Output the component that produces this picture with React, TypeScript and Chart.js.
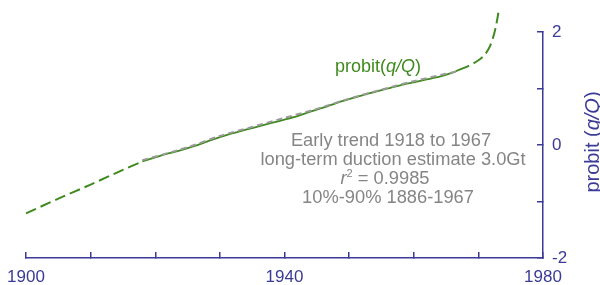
import { useEffect, useRef } from 'react';
import { Chart, registerables } from 'chart.js';

Chart.register(...registerables);

// Fitted probit curve (dashed green), shown outside the data range
const fitEarlyYears = [1900, 1905, 1910, 1915, 1918];
const fitEarlyValues = [-1.21, -0.95, -0.7, -0.44, -0.29];
const fitLateYears = [1967, 1968.5, 1970, 1971, 1971.8, 1972.4, 1972.8, 1973.1];
const fitLateValues = [1.33, 1.4, 1.5, 1.6, 1.75, 1.95, 2.15, 2.34];

// Observed probit(q/Q) (solid green)
const dataYears = [1918, 1920, 1922, 1924, 1926, 1928, 1930, 1932, 1934, 1936, 1938, 1940, 1942, 1944, 1946, 1948, 1950, 1952, 1954, 1956, 1958, 1960, 1962, 1964, 1966, 1967];
const dataValues = [-0.29, -0.22, -0.15, -0.09, -0.02, 0.06, 0.14, 0.21, 0.27, 0.33, 0.39, 0.45, 0.51, 0.59, 0.66, 0.74, 0.81, 0.88, 0.94, 1.0, 1.06, 1.11, 1.16, 1.21, 1.28, 1.33];

// Early trend fit 1918-1967 (gray dashed)
const trendYears = [1918, 1925, 1930, 1935, 1940, 1945, 1950, 1955, 1960, 1965, 1967];
const trendValues = [-0.27, -0.04, 0.16, 0.32, 0.48, 0.64, 0.82, 0.98, 1.13, 1.26, 1.31];

const xTickLabels = [1900, 1940, 1980];
const yTickValues = [-2, -1, 0, 1, 2];
const yTickLabels = [-2, 0, 2];

const annotationLines = [
  'Early trend 1918 to 1967',
  'long-term duction estimate 3.0Gt',
  'r2 = 0.9985',
  '10%-90% 1886-1967',
];

const NAVY = '#3b3b96';
const GREEN = '#3f8a1e';
const GRAY_TEXT = '#858585';
const FONT = '"Liberation Sans", Arial, Helvetica, sans-serif';

type Part = { t: string; italic?: boolean; size?: number; dy?: number };

function drawRich(ctx: CanvasRenderingContext2D, parts: Part[], x: number, y: number, size: number, color: string, align: 'left' | 'center') {
  const fontOf = (p: Part) => `${p.italic ? 'italic ' : ''}${p.size ?? size}px ${FONT}`;
  let total = 0;
  for (const p of parts) {
    ctx.font = fontOf(p);
    total += ctx.measureText(p.t).width;
  }
  let cx = align === 'center' ? x - total / 2 : x;
  ctx.fillStyle = color;
  ctx.textAlign = 'left';
  ctx.textBaseline = 'alphabetic';
  for (const p of parts) {
    ctx.font = fontOf(p);
    ctx.fillText(p.t, cx, y + (p.dy ?? 0));
    cx += ctx.measureText(p.t).width;
  }
}

const textPlugin = {
  id: 'textPlugin',
  afterDraw(chart: any) {
    const ctx: CanvasRenderingContext2D = chart.ctx;
    ctx.save();
    // green series label
    drawRich(ctx, [{ t: 'probit(' }, { t: 'q/Q', italic: true }, { t: ')' }], 335, 72, 18, GREEN, 'left');
    // annotation block
    const cx = 391;
    const baselines = [146, 165, 184, 203];
    drawRich(ctx, [{ t: annotationLines[0] }], cx, baselines[0], 18.3, GRAY_TEXT, 'center');
    drawRich(ctx, [{ t: annotationLines[1] }], cx + 2, baselines[1], 18.3, GRAY_TEXT, 'center');
    drawRich(ctx, [{ t: 'r', italic: true }, { t: '2', size: 11, dy: -7 }, { t: ' = 0.9985' }], cx - 6, baselines[2], 18.3, GRAY_TEXT, 'center');
    drawRich(ctx, [{ t: annotationLines[3] }], cx - 3, baselines[3], 18.3, GRAY_TEXT, 'center');
    // right axis title
    ctx.translate(599, 142);
    ctx.rotate(-Math.PI / 2);
    drawRich(ctx, [{ t: 'probit (' }, { t: 'q/Q', italic: true }, { t: ')' }], 0, 0, 20, NAVY, 'center');
    ctx.restore();
  },
};

export default function App() {
  const canvasRef = useRef<HTMLCanvasElement | null>(null);

  useEffect(() => {
    if (!canvasRef.current) return;
    const fitPoints = [
      ...fitEarlyYears.map((x, i) => ({ x, y: fitEarlyValues[i] })),
      { x: 1940, y: null },
      ...fitLateYears.map((x, i) => ({ x, y: fitLateValues[i] })),
    ];
    const chart = new Chart(canvasRef.current, {
      type: 'line',
      data: {
        datasets: [
          {
            label: 'early trend',
            data: trendYears.map((x, i) => ({ x, y: trendValues[i] })),
            borderColor: '#9a9a9a',
            borderWidth: 2,
            borderDash: [6, 4],
            pointRadius: 0,
            tension: 0.3,
          },
          {
            label: 'probit(q/Q)',
            data: dataYears.map((x, i) => ({ x, y: dataValues[i] })),
            borderColor: GREEN,
            borderWidth: 1.8,
            pointRadius: 0,
            tension: 0.3,
          },
          {
            label: 'fit',
            data: fitPoints as any,
            borderColor: GREEN,
            borderWidth: 2,
            borderDash: [11, 5],
            pointRadius: 0,
            tension: 0.3,
            spanGaps: false,
            clip: false as any,
          },
        ],
      },
      options: {
        responsive: false,
        animation: false,
        layout: { padding: { left: 26, top: 32, right: 0, bottom: 0 } },
        plugins: { legend: { display: false }, tooltip: { enabled: false } },
        scales: {
          x: {
            type: 'linear',
            position: 'bottom',
            min: 1900,
            max: 1980,
            border: { color: NAVY, width: 1.5 },
            grid: { drawOnChartArea: false, color: NAVY, lineWidth: 1.5, tickLength: -6 },
            ticks: {
              stepSize: 10,
              color: NAVY,
              font: { family: FONT, size: 17 },
              padding: 15,
              maxRotation: 0,
              autoSkip: false,
              callback: (v: any) => (xTickLabels.includes(Number(v)) ? String(v) : ''),
            },
            afterFit: (s: any) => {
              s.height = 27;
              s.paddingLeft = 0;
              s.paddingRight = 0;
            },
          },
          y: {
            type: 'linear',
            position: 'right',
            min: -2,
            max: 2,
            border: { color: NAVY, width: 1.5 },
            grid: { drawOnChartArea: false, color: NAVY, lineWidth: 1.5, tickLength: -6 },
            afterBuildTicks: (s: any) => {
              s.ticks = yTickValues.map((value) => ({ value }));
            },
            ticks: {
              color: NAVY,
              font: { family: FONT, size: 17 },
              padding: 15,
              callback: (v: any) => (yTickLabels.includes(Number(v)) ? String(v) : ''),
            },
            afterFit: (s: any) => {
              s.width = 57;
            },
          },
        },
      },
      plugins: [textPlugin],
    });
    return () => chart.destroy();
  }, []);

  return (
    <div style={{ position: 'absolute', left: 0, top: 0, width: 600, height: 285, background: '#fff' }}>
      <canvas ref={canvasRef} width={600} height={285} style={{ display: 'block' }} />
    </div>
  );
}
